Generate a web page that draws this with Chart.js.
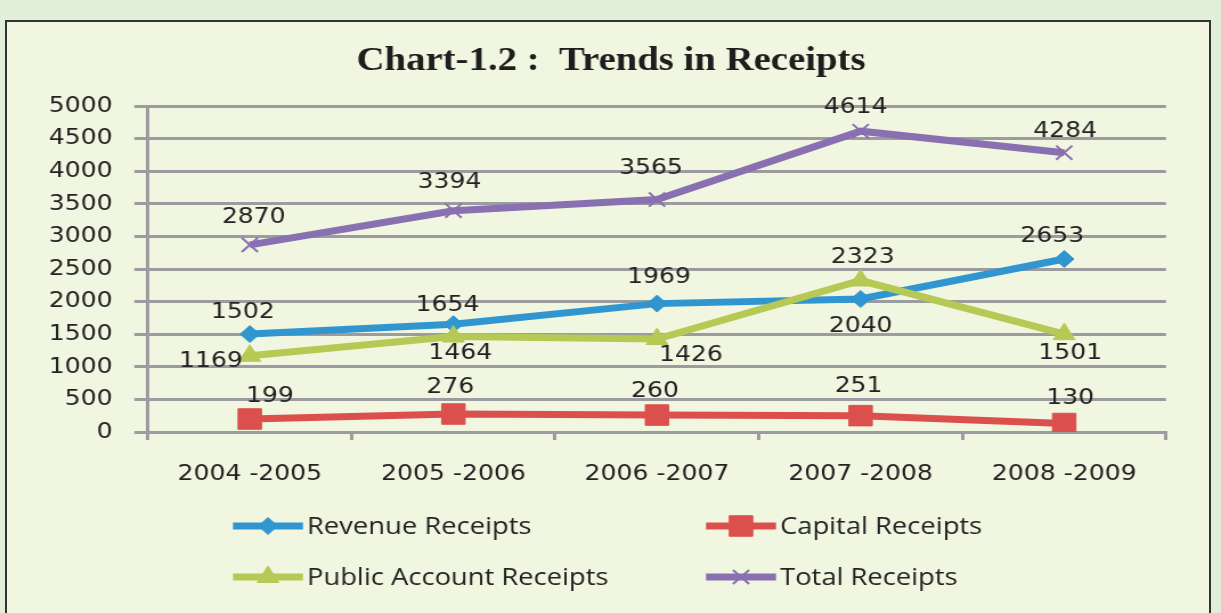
<!DOCTYPE html>
<html>
<head>
<meta charset="utf-8">
<script src="https://cdn.jsdelivr.net/npm/chart.js@4.4.1/dist/chart.umd.min.js"></script>
<style>
  html, body { margin:0; padding:0; width:1221px; height:613px; overflow:hidden; background:#e1eed9; }
  #panel { position:absolute; left:5px; top:20px; width:1202px; height:620px; border:2px solid #333; background:#f1f6e1; }
  #c { position:absolute; left:0; top:0; transform-origin:0 0; }
</style>
</head>
<body>
<div id="panel"></div>
<canvas id="c" width="1071" height="613"></canvas>
<script>
const chartTitle = 'Chart-1.2 :  Trends in Receipts';
const categories = ['2004 -2005', '2005 -2006', '2006 -2007', '2007 -2008', '2008 -2009'];
const revenueReceipts = [1502, 1654, 1969, 2040, 2653];
const capitalReceipts = [199, 276, 260, 251, 130];
const publicAccountReceipts = [1169, 1464, 1426, 2323, 1501];
const totalReceipts = [2870, 3394, 3565, 4614, 4284];
const seriesNames = ['Revenue Receipts', 'Capital Receipts', 'Public Account Receipts', 'Total Receipts'];
const yTicks = { min: 0, max: 5000, step: 500 };

// horizontal stretch of the whole drawing (the reference is widened)
const canvasEl = document.getElementById('c');
const SX = 1221 / canvasEl.width;
canvasEl.style.transform = 'scaleX(' + SX + ')';

// label placement (style): offsets of value labels from their points, in screen px
const labelOffsets = [
  [[-7,-22],[-6,-19],[2,-26],[0,27],[-12,-23]],
  [[20,-23],[-3,-27],[-2,-24],[-2,-29],[6,-25]],
  [[-39,6],[7,17],[34,16],[2,-23],[6,19]],
  [[4,-28],[-4,-28],[-6,-31],[-5,-24],[1,-21]]
];

const colors = ['#3196cf', '#db504d', '#b6c954', '#8870b1'];
const styles = [
  { pointStyle:'rectRot', radius:8.5, borderWidth:1 },
  { pointStyle:'rect', radius:14.5, borderWidth:1 },
  { pointStyle:'triangle', radius:11, borderWidth:1 },
  { pointStyle:'crossRot', radius:10, borderWidth:2 }
];
const seriesData = [revenueReceipts, capitalReceipts, publicAccountReceipts, totalReceipts];
const drawOrder = [4, 3, 2, 1];

const datasets = seriesData.map((d, i) => ({
  label: seriesNames[i],
  data: d,
  borderColor: colors[i],
  backgroundColor: colors[i],
  borderWidth: 7,
  tension: 0,
  pointStyle: styles[i].pointStyle,
  pointRadius: styles[i].radius,
  pointHoverRadius: styles[i].radius,
  pointBorderWidth: styles[i].borderWidth,
  pointBorderColor: colors[i],
  pointBackgroundColor: colors[i],
  order: drawOrder[i]
}));

const GRID = '#9c9ca0';
const TEXT = '#222222';

const overlay = {
  id: 'overlay',
  afterDatasetsDraw(chart) {
    const ctx = chart.ctx;
    ctx.save();
    ctx.font = '22px "DejaVu Sans"';
    ctx.fillStyle = TEXT;
    ctx.textAlign = 'center';
    ctx.textBaseline = 'middle';
    chart.data.datasets.forEach((ds, i) => {
      const meta = chart.getDatasetMeta(i);
      meta.data.forEach((pt, j) => {
        const off = labelOffsets[i][j];
        ctx.fillText(String(ds.data[j]), pt.x + off[0] / SX, pt.y + off[1]);
      });
    });
    ctx.restore();
  },
  afterDraw(chart) {
    const ctx = chart.ctx;
    ctx.save();
    // title
    ctx.font = 'bold 34px "Liberation Serif"';
    ctx.fillStyle = '#1e1e1e';
    ctx.textAlign = 'center';
    ctx.textBaseline = 'middle';
    ctx.fillText(chartTitle, 611 / SX, 61);
    // legend
    const pos = [[233, 526], [706, 526], [233, 577], [706, 577]];
    ctx.font = '24px "Open Sans"';
    ctx.textAlign = 'left';
    chart.data.datasets.forEach((ds, i) => {
      const x = pos[i][0] / SX, y = pos[i][1];
      ctx.strokeStyle = colors[i];
      ctx.fillStyle = colors[i];
      ctx.lineWidth = 7;
      ctx.lineCap = 'butt';
      ctx.beginPath();
      ctx.moveTo(x, y);
      ctx.lineTo(x + 70 / SX, y);
      ctx.stroke();
      ctx.lineWidth = styles[i].borderWidth;
      Chart.helpers.drawPoint(ctx, {
        pointStyle: styles[i].pointStyle,
        radius: styles[i].radius,
        rotation: 0,
        borderWidth: styles[i].borderWidth
      }, x + 35 / SX, y);
      ctx.fillStyle = TEXT;
      ctx.fillText(ds.label, x + 74 / SX, y + 1);
    });
    ctx.restore();
  }
};

new Chart(canvasEl, {
  type: 'line',
  data: { labels: categories, datasets },
  options: {
    responsive: false,
    animation: false,
    layout: { padding: { left: 0, top: 106, right: 55 / SX, bottom: 111 } },
    plugins: { legend: { display: false }, title: { display: false }, tooltip: { enabled: false } },
    scales: {
      x: {
        offset: true,
        afterFit(s) { s.height = 70; },
        grid: { drawOnChartArea: false, drawTicks: true, tickLength: 8, color: GRID, lineWidth: 3, offset: true },
        border: { display: true, color: GRID, width: 3 },
        ticks: { color: TEXT, font: { family: 'DejaVu Sans', size: 22 }, padding: 21, maxRotation: 0 }
      },
      y: {
        min: yTicks.min, max: yTicks.max,
        afterFit(s) { s.width = 148 / SX; },
        grid: { color: GRID, lineWidth: 3, tickLength: 12, drawTicks: true },
        border: { display: true, color: GRID, width: 3 },
        ticks: { stepSize: yTicks.step, color: TEXT, font: { family: 'DejaVu Sans', size: 22 }, padding: 19,
                 callback: v => String(v) }
      }
    }
  },
  plugins: [overlay]
});
</script>
</body>
</html>
